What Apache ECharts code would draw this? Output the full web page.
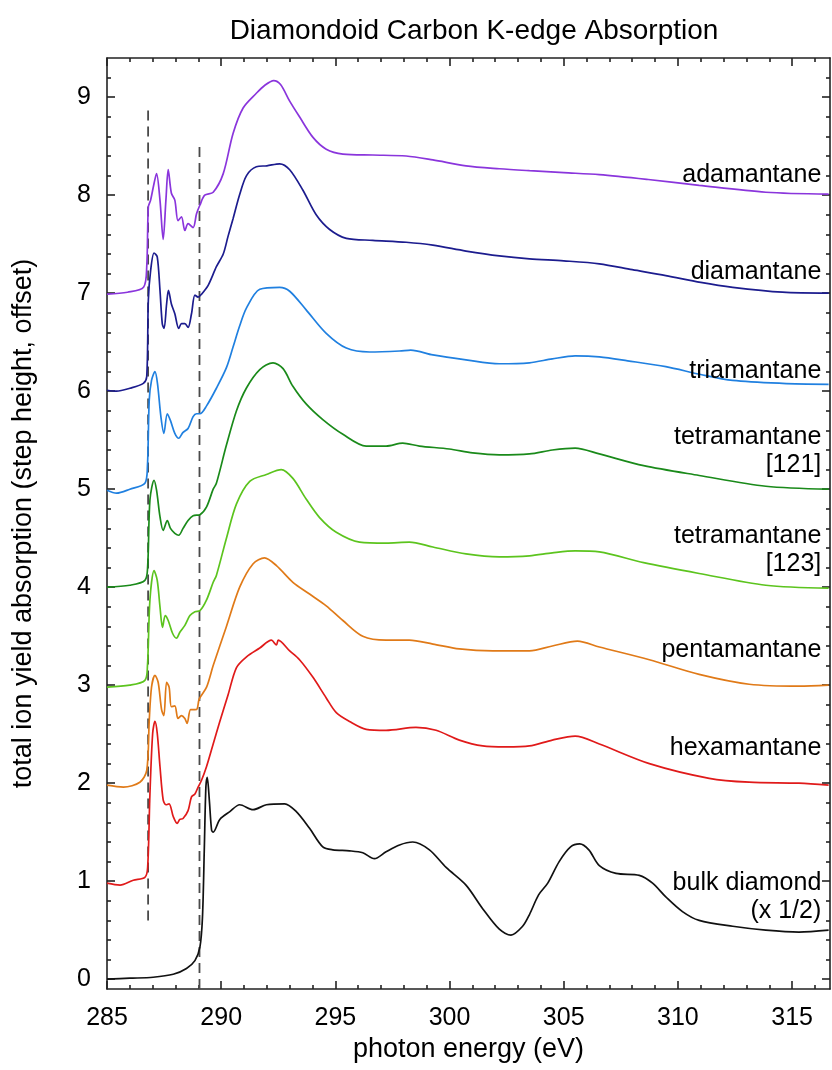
<!DOCTYPE html>
<html>
<head>
<meta charset="utf-8">
<script src="https://cdn.jsdelivr.net/npm/echarts@6/dist/echarts.min.js"></script>
<style>html,body{margin:0;padding:0;background:#fff}#c{width:832px;height:1070px}</style>
</head>
<body>
<div id="c"></div>
<script>
const titleText = 'Diamondoid Carbon K-edge Absorption';
const xName = 'photon energy (eV)';
const yName = 'total ion yield absorption (step height, offset)';

const xMajor = [285, 290, 295, 300, 305, 310, 315];
const xMinor = [286,287,288,289,291,292,293,294,296,297,298,299,301,302,303,304,306,307,308,309,311,312,313,314,316];
const yMajor = [0,1,2,3,4,5,6,7,8,9];
const yMinor = [0.2,0.4,0.6,0.8,1.2,1.4,1.6,1.8,2.2,2.4,2.6,2.8,3.2,3.4,3.6,3.8,4.2,4.4,4.6,4.8,5.2,5.4,5.6,5.8,6.2,6.4,6.6,6.8,7.2,7.4,7.6,7.8,8.2,8.4,8.6,8.8,9.2];

const seriesNames = ['adamantane','diamantane','triamantane','tetramantane [121]','tetramantane [123]','pentamantane','hexamantane','bulk diamond (x 1/2)'];
const seriesColors = ['#8a35dc','#1c1c8e','#2080e0','#1a8a1a','#5cc41e','#e07a18','#e01a1a','#111111'];

const adamantane = [[285.0,6.99],[285.9,7.01],[286.6,7.06],[286.74,7.27],[286.81,7.88],[286.91,7.95],[287.06,8.12],[287.17,8.22],[287.32,7.95],[287.46,7.55],[287.58,7.95],[287.68,8.26],[287.82,8.02],[287.97,7.95],[288.11,7.74],[288.26,7.78],[288.41,7.64],[288.55,7.71],[288.77,7.67],[288.92,7.81],[289.07,7.9],[289.28,8.0],[289.65,8.03],[290.09,8.22],[290.52,8.63],[290.96,8.89],[291.54,9.04],[291.9,9.12],[292.3,9.17],[292.6,9.13],[293.0,8.96],[293.43,8.80],[294.02,8.59],[294.6,8.47],[295.33,8.42],[296.64,8.41],[298.1,8.40],[299.27,8.36],[300.72,8.30],[302.18,8.27],[303.5,8.25],[305.0,8.23],[306.56,8.21],[308.7,8.16],[310.93,8.10],[313.85,8.03],[316.6,8.01]];
const diamantane = [[285.0,6.01],[285.42,6.0],[286.0,6.03],[286.59,6.08],[286.74,6.15],[286.81,6.93],[286.91,7.23],[287.06,7.41],[287.2,7.37],[287.32,7.03],[287.42,6.69],[287.5,6.64],[287.61,6.89],[287.69,7.03],[287.82,6.89],[287.97,6.79],[288.14,6.64],[288.26,6.69],[288.41,6.69],[288.55,6.65],[288.7,6.79],[288.85,6.98],[288.99,6.96],[289.14,6.99],[289.43,7.08],[289.79,7.27],[290.09,7.40],[290.3,7.58],[290.52,7.76],[290.8,8.0],[291.11,8.2],[291.54,8.29],[292.0,8.30],[292.56,8.32],[293.0,8.26],[293.58,8.05],[294.16,7.80],[294.75,7.65],[295.48,7.56],[296.64,7.54],[298.1,7.52],[299.27,7.49],[300.72,7.43],[302.18,7.38],[303.5,7.35],[305.0,7.33],[306.56,7.30],[308.0,7.24],[309.47,7.18],[311.0,7.11],[312.4,7.06],[314.58,7.01],[316.6,7.0]];
const triamantane = [[285.0,4.99],[285.42,4.96],[286.0,5.0],[286.66,5.06],[286.77,5.23],[286.85,5.91],[286.95,6.11],[287.1,6.20],[287.21,6.08],[287.36,5.74],[287.49,5.57],[287.64,5.77],[287.78,5.70],[287.97,5.57],[288.14,5.52],[288.33,5.58],[288.55,5.62],[288.77,5.74],[288.92,5.77],[289.07,5.77],[289.36,5.85],[289.79,6.03],[290.23,6.24],[290.52,6.45],[290.8,6.66],[291.11,6.85],[291.69,7.04],[292.56,7.06],[293.0,7.02],[293.72,6.83],[294.6,6.59],[295.48,6.44],[296.5,6.40],[297.81,6.41],[298.3,6.42],[299.27,6.37],[300.72,6.32],[302.18,6.28],[303.5,6.29],[304.5,6.33],[305.5,6.36],[306.56,6.35],[307.8,6.31],[309.47,6.25],[311.0,6.17],[312.4,6.11],[314.58,6.08],[316.6,6.07]];
const tetramantane121 = [[285.0,4.0],[286.0,4.02],[286.66,4.07],[286.78,4.21],[286.88,4.89],[287.06,5.09],[287.17,4.99],[287.32,4.72],[287.46,4.58],[287.64,4.68],[287.78,4.60],[287.97,4.55],[288.14,4.53],[288.33,4.60],[288.55,4.68],[288.77,4.73],[289.07,4.74],[289.36,4.82],[289.65,5.0],[289.79,5.06],[290.23,5.45],[290.67,5.8],[291.1,6.03],[291.69,6.22],[292.27,6.29],[292.71,6.23],[293.14,6.05],[293.72,5.87],[294.45,5.71],[295.33,5.56],[296.35,5.44],[297.22,5.44],[297.95,5.47],[298.68,5.44],[299.99,5.41],[301.01,5.37],[302.18,5.35],[303.5,5.36],[304.5,5.40],[305.5,5.42],[306.56,5.36],[308.5,5.24],[310.93,5.14],[313.85,5.03],[316.6,5.0]];
const tetramantane123 = [[285.0,2.98],[286.0,3.0],[286.66,3.05],[286.77,3.19],[286.88,3.87],[287.06,4.17],[287.2,4.07],[287.32,3.80],[287.43,3.59],[287.55,3.71],[287.68,3.66],[287.87,3.53],[288.04,3.48],[288.19,3.54],[288.41,3.61],[288.63,3.71],[288.85,3.75],[289.07,3.76],[289.36,3.87],[289.65,4.05],[289.79,4.12],[290.23,4.5],[290.67,4.85],[291.25,5.08],[291.98,5.15],[292.63,5.20],[293.14,5.11],[293.72,4.90],[294.31,4.71],[295.04,4.56],[296.06,4.46],[297.22,4.45],[298.24,4.46],[299.27,4.41],[300.72,4.34],[302.18,4.31],[303.5,4.32],[304.5,4.35],[305.5,4.37],[306.56,4.36],[308.5,4.25],[310.93,4.14],[313.85,4.02],[316.6,3.99]];
const pentamantane = [[285.0,1.98],[285.72,1.96],[286.44,2.01],[286.74,2.13],[286.85,2.64],[286.95,2.98],[287.1,3.10],[287.24,3.03],[287.39,2.75],[287.49,2.69],[287.61,3.03],[287.72,2.98],[287.82,2.78],[287.97,2.79],[288.11,2.66],[288.26,2.69],[288.41,2.66],[288.51,2.61],[288.66,2.75],[288.85,2.75],[288.95,2.76],[289.04,2.86],[289.36,2.98],[289.65,3.2],[290.23,3.6],[290.81,4.0],[291.4,4.24],[291.9,4.30],[292.42,4.22],[293.14,4.05],[293.87,3.93],[294.6,3.81],[295.33,3.66],[296.2,3.50],[297.22,3.46],[298.24,3.46],[299.27,3.42],[300.43,3.37],[301.89,3.35],[303.5,3.35],[304.5,3.40],[305.6,3.45],[306.56,3.39],[308.75,3.26],[310.93,3.11],[313.12,3.01],[315.3,2.99],[316.6,3.0]];
const hexamantane = [[285.0,0.98],[285.57,0.96],[286.15,1.01],[286.66,1.04],[286.78,1.14],[286.88,1.89],[287.0,2.51],[287.1,2.63],[287.2,2.51],[287.32,2.17],[287.46,1.83],[287.58,1.78],[287.72,1.79],[287.9,1.66],[288.07,1.59],[288.19,1.63],[288.33,1.64],[288.55,1.72],[288.7,1.86],[288.85,1.89],[288.99,1.96],[289.14,2.03],[289.36,2.17],[289.65,2.40],[289.94,2.63],[290.3,2.9],[290.67,3.18],[291.11,3.29],[291.69,3.38],[292.2,3.46],[292.42,3.41],[292.5,3.46],[293.0,3.35],[293.43,3.26],[294.02,3.08],[294.6,2.87],[295.04,2.72],[295.62,2.63],[296.35,2.55],[297.22,2.54],[298.53,2.57],[299.41,2.54],[300.43,2.44],[301.45,2.38],[302.47,2.37],[303.5,2.38],[304.5,2.44],[305.5,2.48],[306.56,2.40],[308.75,2.20],[311.37,2.05],[313.12,2.01],[315.3,2.0],[316.6,1.98]];
const bulkDiamond = [[285.0,0.0],[286.0,0.01],[287.02,0.02],[287.9,0.05],[288.48,0.11],[288.85,0.19],[289.07,0.33],[289.18,0.63],[289.26,1.32],[289.33,1.96],[289.39,2.06],[289.48,1.83],[289.58,1.52],[289.65,1.50],[289.94,1.63],[290.38,1.71],[290.81,1.78],[291.4,1.73],[291.98,1.78],[292.78,1.79],[293.29,1.71],[293.87,1.54],[294.45,1.35],[294.89,1.32],[295.62,1.31],[296.2,1.29],[296.71,1.23],[297.22,1.30],[297.81,1.37],[298.39,1.40],[299.12,1.32],[299.85,1.14],[300.72,0.96],[301.45,0.72],[302.18,0.51],[302.69,0.45],[303.2,0.54],[303.5,0.66],[303.9,0.86],[304.3,0.98],[304.8,1.2],[305.3,1.35],[305.7,1.38],[306.1,1.32],[306.56,1.16],[307.29,1.08],[308.31,1.06],[308.89,0.98],[309.47,0.84],[310.2,0.69],[310.93,0.60],[312.4,0.54],[313.85,0.50],[315.3,0.48],[316.6,0.50]];

const seriesData = [adamantane, diamantane, triamantane, tetramantane121, tetramantane123, pentamantane, hexamantane, bulkDiamond];

const labelTexts = ['adamantane','diamantane','triamantane','tetramantane\n[121]','tetramantane\n[123]','pentamantane','hexamantane','bulk diamond\n(x 1/2)'];
const labelY = [8.2, 7.22, 6.21, 5.385, 4.375, 3.36, 2.36, 0.84];
const labelX = 316.3;

const dashed1 = [[286.8,0.6],[286.8,8.9]];
const dashed2 = [[289.05,-0.1],[289.05,8.5]];

const X_MIN = 285, X_MAX = 316.66, Y_MIN = -0.1, Y_MAX = 9.4;
const font = 'Liberation Sans';
const axisColor = '#222';
const textColor = '#000';

function xAx(pos, major, withLabel){
  return {
    type:'value', position:pos, min:X_MIN, max:X_MAX,
    axisLine:{show:major, onZero:false, lineStyle:{color:axisColor, width:1.6}},
    axisTick:{show:true, inside:true, length: major?8:4, customValues: major?xMajor:xMinor, lineStyle:{color:axisColor, width:1.6}},
    axisLabel:{show:withLabel, customValues:xMajor, fontSize:25, fontFamily:font, color:textColor, margin:17},
    splitLine:{show:false},
    name: withLabel ? xName : '',
    nameLocation:'middle', nameGap:47,
    nameTextStyle:{fontSize:27, fontFamily:font, color:textColor}
  };
}
function yAx(pos, major, withLabel){
  return {
    type:'value', position:pos, min:Y_MIN, max:Y_MAX,
    axisLine:{show:major, onZero:false, lineStyle:{color:axisColor, width:1.6}},
    axisTick:{show:true, inside:true, length: major?8:4, customValues: major?yMajor:yMinor, lineStyle:{color:axisColor, width:1.6}},
    axisLabel:{show:withLabel, customValues:yMajor, fontSize:25, fontFamily:font, color:textColor, margin:16},
    splitLine:{show:false},
    name: withLabel ? yName : '',
    nameLocation:'middle', nameGap:70, nameRotate:90,
    nameTextStyle:{fontSize:27, fontFamily:font, color:textColor}
  };
}

const series = seriesData.map((d,i)=>({
  type:'line', name:seriesNames[i], data:d, xAxisIndex:0, yAxisIndex:0,
  showSymbol:false, smooth:0.3, lineStyle:{color:seriesColors[i], width:1.7}, itemStyle:{color:seriesColors[i]},
  z:3
}));
[dashed1, dashed2].forEach(d=>series.push({
  type:'line', data:d, xAxisIndex:0, yAxisIndex:0, showSymbol:false,
  lineStyle:{color:'#4a4a4a', width:1.8, type:[10,6]}, z:2
}));
series.push({
  type:'scatter', xAxisIndex:0, yAxisIndex:0,
  data: labelY.map((y,i)=>({value:[labelX, y], name:labelTexts[i]})),
  symbolSize:1, itemStyle:{color:'#fff', opacity:0},
  label:{show:true, position:'left', distance:0, formatter:p=>p.name, fontSize:25, fontFamily:font, color:textColor, opacity:1, textBorderWidth:0, align:'right', lineHeight:28},
  emphasis:{disabled:true},
  z:5
});

const chart = echarts.init(document.getElementById('c'), null, {renderer:'canvas'});
chart.setOption({
  animation:false,
  backgroundColor:'#fff',
  title:{text:titleText, left:469, top:12, textAlign:'center', textStyle:{fontSize:28, fontWeight:'normal', fontFamily:font, color:textColor}},
  grid:{left:107, right:2, top:58, bottom:81},
  xAxis:[xAx('bottom',true,true), xAx('bottom',false,false), xAx('top',true,false), xAx('top',false,false)],
  yAxis:[yAx('left',true,true), yAx('left',false,false), yAx('right',true,false), yAx('right',false,false)],
  series
});
</script>
</body>
</html>
